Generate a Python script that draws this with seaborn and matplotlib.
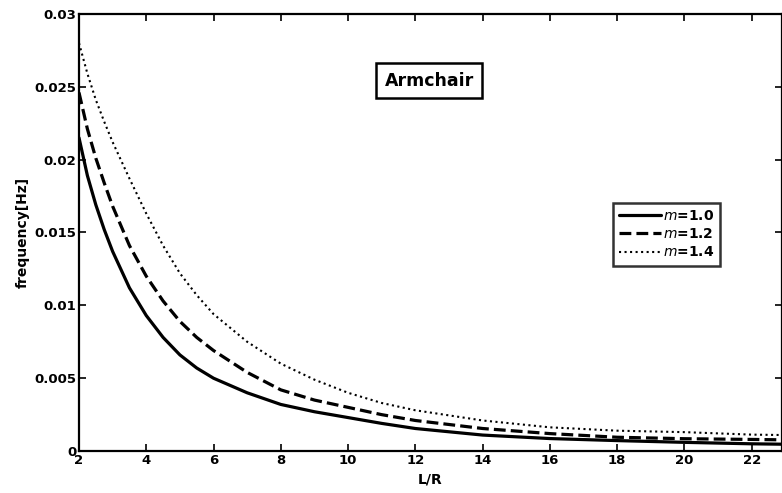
import numpy as np
import pandas as pd
import matplotlib
matplotlib.use("Agg")
import matplotlib.pyplot as plt
import seaborn as sns

# values
lr = [2, 2.25, 2.5, 2.75, 3, 3.5, 4, 4.5, 5, 5.5, 6, 7, 8, 9, 10, 11, 12, 14, 16, 18, 20, 22, 23]
f_m10 = [0.0215, 0.0189, 0.0169, 0.0152, 0.0137, 0.0112, 0.0093, 0.0078, 0.0066, 0.0057, 0.0050,
         0.0040, 0.0032, 0.0027, 0.0023, 0.0019, 0.00155, 0.00110, 0.00086, 0.00072, 0.00060, 0.00050, 0.00047]
f_m12 = [0.0246, 0.0221, 0.0201, 0.0184, 0.0168, 0.0141, 0.0120, 0.0103, 0.0089, 0.0078, 0.0069,
         0.0054, 0.0042, 0.0035, 0.0030, 0.0025, 0.0021, 0.00155, 0.0012, 0.00095, 0.00085, 0.0008, 0.00077]
f_m14 = [0.0280, 0.0259, 0.0241, 0.0226, 0.0212, 0.0187, 0.0163, 0.0141, 0.0122, 0.0107, 0.0094,
         0.0075, 0.0060, 0.0049, 0.0040, 0.0033, 0.0028, 0.0021, 0.00163, 0.0014, 0.0013, 0.00113, 0.0011]
labels = ["m=1.0", "m=1.2", "m=1.4"]
xticks = [2, 4, 6, 8, 10, 12, 14, 16, 18, 20, 22]
yticks = [0, 0.005, 0.01, 0.015, 0.02, 0.025, 0.03]
ytick_labels = ["0", "0.005", "0.01", "0.015", "0.02", "0.025", "0.03"]

df = pd.DataFrame({
    "L/R": lr * 3,
    "freq": f_m10 + f_m12 + f_m14,
    "m": sum([[lab] * len(lr) for lab in labels], []),
})

sns.set_style("ticks")
plt.rcParams["font.family"] = ["DejaVu Sans"]
plt.rcParams["mathtext.fontset"] = "dejavusans"
plt.rcParams["text.color"] = "black"
plt.rcParams["axes.labelcolor"] = "black"
plt.rcParams["xtick.color"] = "black"
plt.rcParams["ytick.color"] = "black"

fig = plt.figure(figsize=(7.82, 4.93), dpi=100)
ax = fig.add_axes([0.101, 0.085, 0.899, 0.887])

styles = {"m=1.0": "-", "m=1.2": "--", "m=1.4": ":"}
widths = {"m=1.0": 2.3, "m=1.2": 2.3, "m=1.4": 1.5}
for lab in labels:
    sub = df[df["m"] == lab]
    sns.lineplot(data=sub, x="L/R", y="freq", ax=ax, color="black",
                 linestyle=styles[lab], linewidth=widths[lab], label=lab)

ax.set_xlim(2, 22.9)
ax.set_ylim(0, 0.03)
ax.set_xticks(xticks)
ax.set_yticks(yticks)
ax.set_xticklabels([str(t) for t in xticks], fontsize=9.5, fontweight="bold")
ax.set_yticklabels(ytick_labels, fontsize=9.5, fontweight="bold")
ax.tick_params(direction="in", length=5, width=1.2, top=True, right=True, pad=2,
               colors="black")
for s in ax.spines.values():
    s.set_linewidth(1.6)
    s.set_color("black")

ax.set_xlabel("L/R", fontsize=10, fontweight="bold", labelpad=4, color="black")
ax.set_ylabel("frequency[Hz]", fontsize=10, fontweight="bold", labelpad=3, color="black")

ax.text(0.498, 0.847, "Armchair", transform=ax.transAxes, ha="center", va="center",
        fontsize=12.5, fontweight="bold", color="black",
        bbox=dict(boxstyle="square,pad=0.5", facecolor="white", edgecolor="black", linewidth=1.8))

handles, _ = ax.get_legend_handles_labels()
leg = ax.legend(handles, [r"$\mathit{m}$=1.0", r"$\mathit{m}$=1.2", r"$\mathit{m}$=1.4"], loc="center",
                bbox_to_anchor=(0.836, 0.496), frameon=True, fancybox=False,
                fontsize=10, handlelength=3.0, handletextpad=0.15, borderpad=0.45,
                labelspacing=0.3, borderaxespad=0)
leg.get_frame().set_edgecolor("black")
leg.get_frame().set_linewidth(1.8)
for t in leg.get_texts():
    t.set_fontweight("bold")
    t.set_color("black")

fig.savefig("out.png", dpi=100)
